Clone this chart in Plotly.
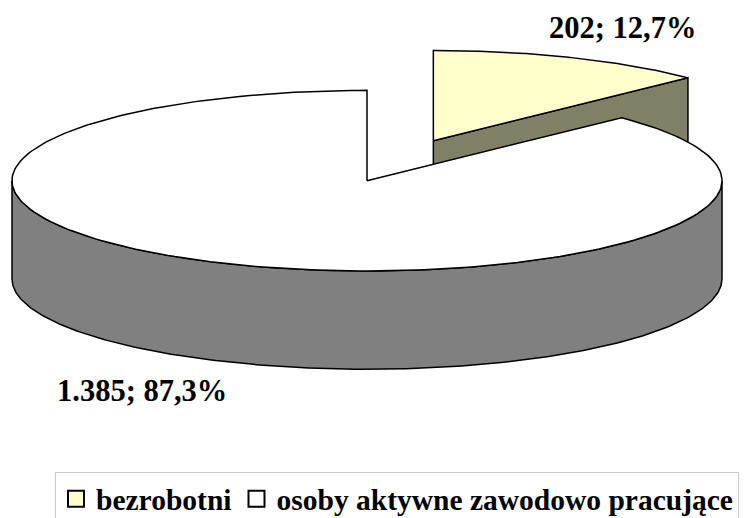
import numpy as np
import plotly.graph_objects as go

# ---- data ----
categories = ["bezrobotni", "osoby aktywne zawodowo pracujące"]
values = [202, 1385]
top_colors = ["#FFFFCC", "#FFFFFF"]
side_colors = ["#808066", "#808080"]

# ---- geometry (style) ----
W, H = 748, 518
OFF = 8                    # page body margin compensation
CX, CY = 367, 182          # centre of the large slice (pixels)
RX, RY = 355, 91           # ellipse radii
DEPTH = 99                 # thickness of the pie
EXPLODE = 0.48             # explosion of the small slice
LINE = dict(color="black", width=1.5)
FONT = "Liberation Serif, Times New Roman, serif"

total = sum(values)
fracs = [v / total for v in values]
angles = np.cumsum([0] + [f * 360 for f in fracs])  # clockwise from 12 o'clock


def pt(cx, cy, th):
    r = np.radians(th)
    return cx + RX * np.sin(r), cy - RY * np.cos(r)


def arc(cx, cy, a0, a1, n=240):
    th = np.linspace(a0, a1, n)
    r = np.radians(th)
    return list(cx + RX * np.sin(r)), list(cy - RY * np.cos(r))


a0, a1, a2 = angles
mid_small = (a0 + a1) / 2
mr = np.radians(mid_small)
scx = CX + EXPLODE * RX * np.sin(mr)
scy = CY - EXPLODE * RY * np.cos(mr)

fig = go.Figure()


def poly(xs, ys, fill):
    fig.add_trace(go.Scatter(
        x=xs + [xs[0]], y=ys + [ys[0]], mode="lines", fill="toself",
        fillcolor=fill, line=LINE, hoverinfo="skip", showlegend=False))


# small slice: cut face at its end angle
rx1, ry1 = pt(scx, scy, a1)
poly([scx, rx1, rx1, scx], [scy, ry1, ry1 + DEPTH, scy + DEPTH], side_colors[0])
# small slice: top
ax, ay = arc(scx, scy, a0, a1)
poly([scx] + ax, [scy] + ay, top_colors[0])

# large slice: front outer wall
tx, ty = arc(CX, CY, 90, 270)
bx, by = arc(CX, CY, 270, 90)
poly(tx + bx, ty + [v + DEPTH for v in by], side_colors[1])
# large slice: top
ax, ay = arc(CX, CY, a1, a2)
poly([CX] + ax, [CY] + ay, top_colors[1])

# legend entries
for name, col in zip(categories, top_colors):
    fig.add_trace(go.Scatter(
        x=[None], y=[None], mode="markers", name=name,
        marker=dict(symbol="square", size=16, color=col,
                    line=dict(color="black", width=2))))


def fmt_num(v):
    return f"{v:,}".replace(",", ".")


def fmt_pct(f):
    return f"{f * 100:.1f}".replace(".", ",") + "%"


labels = [f"{fmt_num(v)}; {fmt_pct(f)}" for v, f in zip(values, fracs)]

# label positions from slice mid angles
lx1 = scx + 1.37 * RX * np.sin(mr)
ly1 = scy - 1.36 * RY * np.cos(mr)
mid_big = np.radians((a1 + a2) / 2)
lx2 = CX + 1.63 * RX * np.sin(mid_big)
ly2 = CY - 1.35 * RY * np.cos(mid_big) + DEPTH

for (lx, ly), txt, fs in zip([(lx1, ly1), (lx2, ly2)], labels, [30.5, 30.5]):
    fig.add_annotation(x=lx, y=ly, text=f"<b>{txt}</b>", showarrow=False,
                       xanchor="center", yanchor="middle",
                       font=dict(family=FONT, size=fs, color="black"))

fig.update_layout(
    width=W, height=H, margin=dict(l=0, r=0, t=0, b=0),
    paper_bgcolor="white", plot_bgcolor="white",
    xaxis=dict(range=[OFF, W + OFF], visible=False, fixedrange=True),
    yaxis=dict(range=[H + OFF, OFF], visible=False, fixedrange=True),
    showlegend=True,
    legend=dict(orientation="h", x=(55 - OFF) / W, y=1 - (476 - OFF) / H,
                xanchor="left", yanchor="top",
                bordercolor="#C8C8C8", borderwidth=1, bgcolor="white",
                itemwidth=30, tracegroupgap=0,
                font=dict(family=FONT, size=29.5, color="black", weight="bold")),
)

fig.write_html("out.html")
